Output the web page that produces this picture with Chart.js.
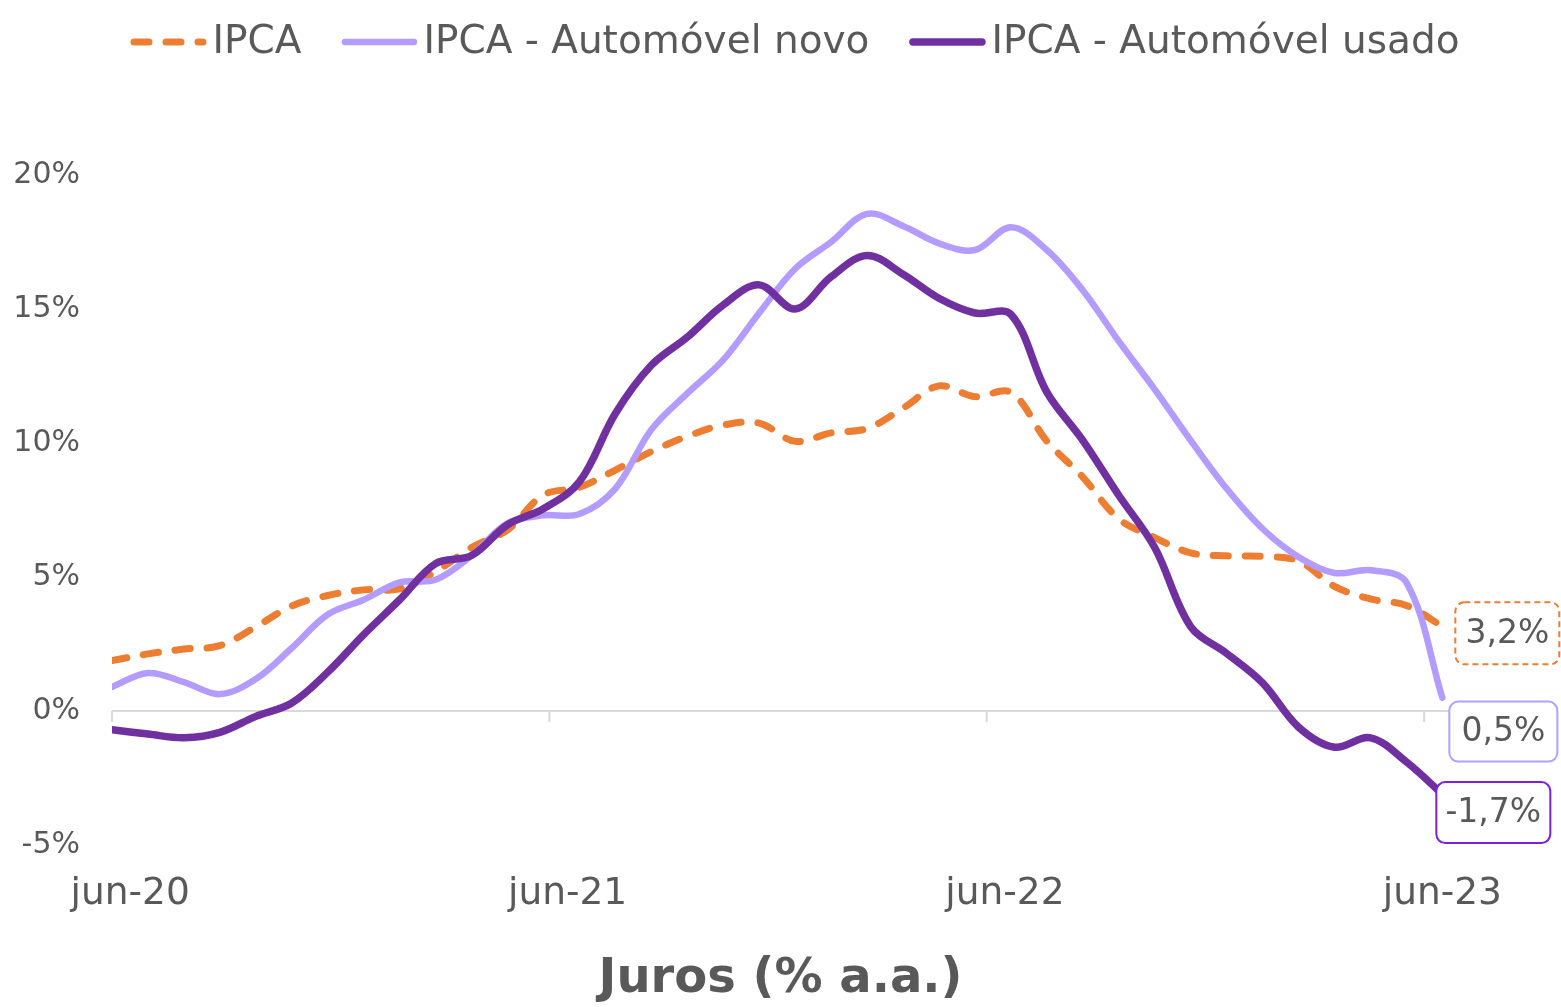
<!DOCTYPE html>
<html>
<head>
<meta charset="utf-8">
<script src="https://cdn.jsdelivr.net/npm/chart.js@4"></script>
<style>
  html, body { margin: 0; padding: 0; background: #ffffff; }
  #wrap { width: 1561px; height: 1007px; position: relative; }
</style>
</head>
<body>
<div id="wrap"><canvas id="c" width="1561" height="1007"></canvas></div>
<script>
// ---- Data ----
// Monthly observations, May-2020 .. Jun-2023 (12-month accumulated, %)
const periods = ['mai-20','jun-20','jul-20','ago-20','set-20','out-20','nov-20','dez-20',
  'jan-21','fev-21','mar-21','abr-21','mai-21','jun-21','jul-21','ago-21','set-21','out-21','nov-21','dez-21',
  'jan-22','fev-22','mar-22','abr-22','mai-22','jun-22','jul-22','ago-22','set-22','out-22','nov-22','dez-22',
  'jan-23','fev-23','mar-23','abr-23','mai-23','jun-23'];
const ipca = [1.88,2.13,2.31,2.44,3.14,3.92,4.31,4.52,4.56,5.20,6.10,6.76,8.06,8.35,8.99,9.68,10.25,10.67,10.74,10.06,
  10.38,10.54,11.30,12.13,11.73,11.89,10.07,8.73,7.17,6.47,5.90,5.79,5.77,5.60,4.65,4.18,3.94,3.16];
const autoNovo = [0.9,1.42,1.08,0.63,1.19,2.35,3.6,4.15,4.8,4.9,5.8,7.0,7.3,7.35,8.3,10.5,11.85,13.1,14.85,16.5,
  17.5,18.55,18.1,17.45,17.2,18.05,17.2,15.7,13.8,12.0,10.1,8.3,6.8,5.75,5.15,5.25,4.8,0.5];
const autoUsado = [-0.7,-0.86,-1.0,-0.8,-0.2,0.3,1.45,2.85,4.15,5.5,5.8,6.95,7.55,8.55,11.1,12.9,13.95,15.15,15.9,15.0,
  16.2,17.0,16.3,15.4,14.85,14.8,11.9,10.1,8.05,6.1,3.15,2.15,1.05,-0.6,-1.35,-1.0,-1.9,-3.1];
const seriesNames = ['IPCA','IPCA - Automóvel novo','IPCA - Automóvel usado'];
const endLabels = ['3,2%','0,5%','-1,7%'];
const xTickLabels = ['jun-20','jun-21','jun-22','jun-23'];
const yTicks = [-5,0,5,10,15,20];
const axisTitle = 'Juros (% a.a.)';

// x position in months (axis spans jun-20 .. ~aug-23; series runs 36.5 months)
const span = 36.5;
const toPts = arr => arr.map((v, i) => ({ x: i * span / (arr.length - 1), y: v }));

const FONT = '"DejaVu Sans", sans-serif';
const TXT = '#595959';
const colors = ['#ED7D31', '#B49BFF', '#7030A0'];
const boxColors = ['#ED7D31', '#B4A0FF', '#7B1FE0'];

const zeroLinePlugin = {
  id: 'zeroLine',
  beforeDatasetsDraw(chart) {
    const { ctx, chartArea, scales } = chart;
    const y0 = scales.y.getPixelForValue(0);
    ctx.save();
    ctx.strokeStyle = '#D9D9D9';
    ctx.lineWidth = 2;
    ctx.beginPath();
    ctx.moveTo(chartArea.left, y0);
    ctx.lineTo(chartArea.right, y0);
    [0, 12, 24, 36].forEach(m => {
      const x = scales.x.getPixelForValue(m);
      ctx.moveTo(x, y0);
      ctx.lineTo(x, y0 + 11);
    });
    ctx.stroke();
    ctx.restore();
  }
};

const legendPlugin = {
  id: 'customLegend',
  afterDraw(chart) {
    const { ctx } = chart;
    ctx.save();
    ctx.font = '39px ' + FONT;
    const lineLen = 76, gap = 6, itemGap = 40;
    const widths = seriesNames.map(n => ctx.measureText(n).width);
    const total = widths.reduce((a, w) => a + lineLen + gap + w, 0) + itemGap * (seriesNames.length - 1);
    let x = 795 - total / 2;
    const y = 42;
    chart.data.datasets.forEach((ds, i) => {
      ctx.strokeStyle = ds.borderColor;
      ctx.lineWidth = ds.borderWidth;
      ctx.lineCap = 'round';
      ctx.setLineDash(ds.borderDash || []);
      ctx.beginPath();
      ctx.moveTo(x + 3.5, y);
      ctx.lineTo(x + lineLen - 3.5, y);
      ctx.stroke();
      ctx.setLineDash([]);
      ctx.fillStyle = TXT;
      ctx.textBaseline = 'middle';
      ctx.textAlign = 'left';
      ctx.fillText(seriesNames[i], x + lineLen + gap, y + 1);
      x += lineLen + gap + widths[i] + itemGap;
    });
    // axis title, centred on the canvas
    ctx.font = 'bold 48px ' + FONT;
    ctx.textAlign = 'center';
    ctx.textBaseline = 'middle';
    ctx.fillText(axisTitle, chart.width / 2, 980);
    ctx.restore();
  }
};

const endLabelPlugin = {
  id: 'endLabels',
  afterDatasetsDraw(chart) {
    const { ctx } = chart;
    // box offsets relative to the last point of each series
    const boxes = [
      { dx: 13, dy: -24, w: 104, h: 62, dash: [6, 4] },
      { dx: 7, dy: 4, w: 108, h: 60, dash: [] },
      { dx: -6, dy: -12, w: 114, h: 61, dash: [] }
    ];
    ctx.save();
    chart.data.datasets.forEach((ds, i) => {
      const meta = chart.getDatasetMeta(i);
      const last = meta.data[meta.data.length - 1];
      const b = boxes[i];
      const left = last.x + b.dx, top = last.y + b.dy;
      ctx.beginPath();
      ctx.roundRect(left, top, b.w, b.h, 9);
      ctx.fillStyle = '#ffffff';
      ctx.fill();
      ctx.setLineDash(b.dash);
      ctx.lineWidth = 2;
      ctx.strokeStyle = boxColors[i];
      ctx.stroke();
      ctx.setLineDash([]);
      ctx.font = '33px ' + FONT;
      ctx.fillStyle = TXT;
      ctx.textAlign = 'center';
      ctx.textBaseline = 'middle';
      ctx.fillText(endLabels[i], left + b.w / 2, top + b.h / 2 + 1);
    });
    ctx.restore();
  }
};

new Chart(document.getElementById('c'), {
  type: 'line',
  data: {
    datasets: [
      { label: seriesNames[0], data: toPts(ipca), borderColor: colors[0], borderWidth: 7,
        borderDash: [15, 17], borderCapStyle: 'round', order: 3 },
      { label: seriesNames[1], data: toPts(autoNovo), borderColor: colors[1], borderWidth: 6.5,
        borderCapStyle: 'round', order: 2 },
      { label: seriesNames[2], data: toPts(autoUsado), borderColor: colors[2], borderWidth: 7.5,
        borderCapStyle: 'round', order: 1 }
    ]
  },
  options: {
    responsive: false,
    animation: false,
    events: [],
    layout: { padding: { top: 175, right: 64, left: 0, bottom: 0 } },
    elements: { point: { radius: 0 }, line: { tension: 0.35, borderJoinStyle: 'round' } },
    plugins: {
      legend: { display: false },
      tooltip: { enabled: false },
      title: { display: false }
    },
    scales: {
      x: {
        type: 'linear', min: 0, max: 38,
        grid: { display: false, drawTicks: false },
        border: { display: false },
        afterBuildTicks(scale) { scale.ticks = [0.5, 12.5, 24.5, 36.5].map(v => ({ value: v })); },
        afterFit(scale) { scale.height = 162; },
        ticks: {
          autoSkip: false, maxRotation: 0, padding: 27, color: TXT,
          font: { family: FONT, size: 37.5 },
          callback: (v) => xTickLabels[[0.5, 12.5, 24.5, 36.5].indexOf(v)]
        }
      },
      y: {
        min: -5, max: 20,
        grid: { display: false, drawTicks: false },
        border: { display: false },
        afterBuildTicks(scale) { scale.ticks = yTicks.map(v => ({ value: v })); },
        afterFit(scale) { scale.width = 112; },
        ticks: {
          padding: 32, color: TXT,
          font: { family: FONT, size: 30 },
          callback: v => v + '%'
        }
      }
    }
  },
  plugins: [zeroLinePlugin, endLabelPlugin, legendPlugin]
});
</script>
</body>
</html>
